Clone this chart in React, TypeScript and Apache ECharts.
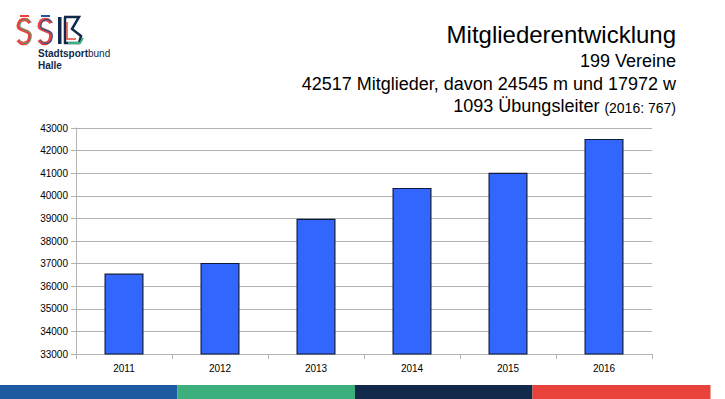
import React, { useEffect, useRef } from "react";
import * as echarts from "echarts";

const years = ["2011", "2012", "2013", "2014", "2015", "2016"];
const members = [36560, 37030, 38980, 40350, 41020, 42517];
const titleLines = ["Mitgliederentwicklung", "199 Vereine", "42517 Mitglieder, davon 24545 m und 17972 w"];
const leaderMain = "1093 Übungsleiter ";
const leaderNote = "(2016: 767)";
const orgLines = ["Stadtsport", "bund", "Halle"];
const stripeColors = ["#1d5aa1", "#3caf7c", "#13294a", "#e8423a"];

function sShape(dx: number) {
  return [
    [30 + dx, 23], [27 + dx, 20], [22 + dx, 20], [19 + dx, 23], [19 + dx, 28],
    [29 + dx, 33], [29 + dx, 40], [26 + dx, 43], [21 + dx, 43], [18 + dx, 40],
  ];
}

export default function App() {
  const ref = useRef<HTMLDivElement>(null);
  useEffect(() => {
    if (!ref.current) return;
    const chart = echarts.init(ref.current, null, { renderer: "svg" });
    const font = "'Liberation Sans', Arial, sans-serif";
    const stripes = stripeColors.map((c, i) => ({
      type: "rect",
      shape: { x: i * 177.5, y: 385, width: i === 3 ? 178 : 177.5, height: 14 },
      style: { fill: c },
      silent: true,
    }));
    chart.setOption({
      animation: false,
      textStyle: { fontFamily: font },
      grid: { left: 76, right: 73, top: 128, bottom: 45 },
      xAxis: {
        type: "category",
        data: years,
        axisLine: { lineStyle: { color: "#b3b3b3" } },
        axisTick: { show: true, length: 5, lineStyle: { color: "#b3b3b3" } },
        axisLabel: { color: "#000", fontSize: 10, margin: 9, fontFamily: font },
      },
      yAxis: {
        type: "value",
        min: 33000,
        max: 43000,
        interval: 1000,
        axisLine: { show: true, lineStyle: { color: "#b3b3b3" } },
        axisTick: { show: true, length: 5, lineStyle: { color: "#b3b3b3" } },
        axisLabel: {
          color: "#000",
          fontSize: 10,
          margin: 8,
          fontFamily: font,
          formatter: (v: number) => String(v),
        },
        splitLine: { lineStyle: { color: "#b3b3b3" } },
      },
      series: [
        {
          type: "bar",
          data: members,
          barWidth: 39,
          itemStyle: { color: "#3366ff", borderColor: "#0f1a3a", borderWidth: 1.2 },
        },
      ],
      graphic: [
        ...stripes,
        {
          type: "text",
          right: 49,
          top: 22,
          style: { text: titleLines[0], font: `24px ${font}`, fill: "#000" },
        },
        {
          type: "text",
          right: 49,
          top: 52,
          style: { text: titleLines[1], font: `18px ${font}`, fill: "#000" },
        },
        {
          type: "text",
          right: 49,
          top: 75,
          style: { text: titleLines[2], font: `18px ${font}`, fill: "#000" },
        },
        {
          type: "text",
          right: 49,
          top: 97,
          style: {
            text: `{a|${leaderMain}}{b|${leaderNote}}`,
            rich: {
              a: { font: `18px ${font}`, fill: "#000", color: "#000" },
              b: { font: `14px ${font}`, fill: "#000", color: "#000", padding: [3, 0, 0, 0] },
            },
          },
        },
        // logo
        { type: "polyline", shape: { points: sShape(0), smooth: 0.3 }, style: { stroke: "#e8423a", lineWidth: 3.5, fill: "none" } },
        { type: "polyline", shape: { points: sShape(1.5), smooth: 0.3 }, style: { stroke: "#3caf7c", lineWidth: 1, fill: "none" } },
        { type: "line", shape: { x1: 20, y1: 16, x2: 29, y2: 16 }, style: { stroke: "#e8423a", lineWidth: 2 } },
        { type: "polyline", shape: { points: sShape(21), smooth: 0.3 }, style: { stroke: "#e8423a", lineWidth: 3.5, fill: "none" } },
        { type: "polyline", shape: { points: sShape(22.5), smooth: 0.3 }, style: { stroke: "#1d5aa1", lineWidth: 1.2, fill: "none" } },
        { type: "line", shape: { x1: 41, y1: 16, x2: 50, y2: 16 }, style: { stroke: "#1d5aa1", lineWidth: 2 } },
        { type: "rect", shape: { x: 58, y: 17, width: 3.5, height: 27 }, style: { fill: "#13294a" } },
        {
          type: "polyline",
          shape: { points: [[64, 17], [79, 17], [72, 29], [81, 36], [79, 43], [65, 43], [65, 17]] },
          style: { stroke: "#13294a", lineWidth: 2.5, fill: "none" },
        },
        {
          type: "polyline",
          shape: { points: [[67, 22], [67, 39], [76, 39]] },
          style: { stroke: "#e8423a", lineWidth: 1.5, fill: "none" },
        },
        {
          type: "polyline",
          shape: { points: [[68, 43], [80, 43], [83, 38]] },
          style: { stroke: "#3caf7c", lineWidth: 2, fill: "none" },
        },
        {
          type: "text",
          x: 38,
          y: 48,
          style: {
            text: `{b|${orgLines[0]}}{n|${orgLines[1]}}`,
            rich: {
              b: { font: `bold 10px ${font}`, fill: "#13294a", color: "#13294a" },
              n: { font: `10px ${font}`, fill: "#13294a", color: "#13294a" },
            },
          },
        },
        {
          type: "text",
          x: 38,
          y: 60,
          style: { text: orgLines[2], font: `bold 10px ${font}`, fill: "#13294a" },
        },
      ],
    });
    return () => chart.dispose();
  }, []);
  return <div ref={ref} style={{ width: 725, height: 399, position: "absolute", left: 0, top: 0 }} />;
}
